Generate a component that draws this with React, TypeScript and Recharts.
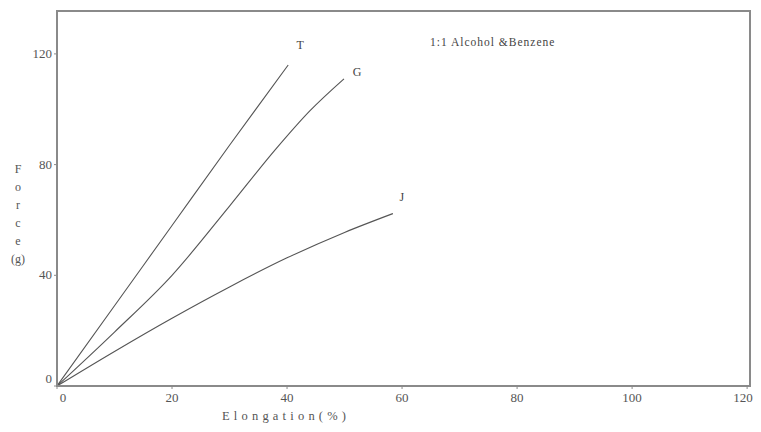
import React from 'react';
import { LineChart, Line, XAxis, YAxis, ReferenceArea } from 'recharts';

// Elongation (%) vs Force (g)
const tElong = [0, 10, 20, 30, 40.2];
const tForce = [0, 29, 58, 87, 116];

const gElong = [0, 10, 20, 30, 38, 44, 49.9];
const gForce = [0, 19.5, 40, 65, 85.5, 99.5, 111];

const jElong = [0, 10, 20, 30, 40, 50, 58.4];
const jForce = [0, 12.5, 24.5, 35.8, 46.3, 55.5, 62.3];

const seriesNames = ['T', 'G', 'J'];
const xTicks = [0, 20, 40, 60, 80, 100, 120];
const yTicks = [0, 40, 80, 120];
const xDomain: [number, number] = [0, 120.5];
const yDomain: [number, number] = [0, 135.5];

const chartTitle = '1:1 Alcohol &Benzene';
const xTitle = 'Elongation(%)';
const yTitleParts = ['F', 'o', 'r', 'c', 'e', '(g)'];

const zip = (xs: number[], ys: number[]) => xs.map((x, i) => ({ x, y: ys[i] }));
const tData = zip(tElong, tForce);
const gData = zip(gElong, gForce);
const jData = zip(jElong, jForce);

const FONT = '"Liberation Serif", "DejaVu Serif", serif';
const TEXT = '#555';
const AXIS = '#8a8a8a';
const LINE = '#555';

const XTick = (props: any) => {
  const { x, y, payload } = props;
  const shift = payload.value === 0 ? 6 : payload.value === 120 ? -4 : 0;
  return (
    <text x={x + shift} y={y} dy={9} textAnchor="middle" fontFamily={FONT} fontSize={13} fill={TEXT}>
      {payload.value}
    </text>
  );
};

const YTick = (props: any) => {
  const { x, y, payload } = props;
  const shift = payload.value === 0 ? -7 : 0;
  return (
    <text x={x} y={y + shift} dy={4} textAnchor="end" fontFamily={FONT} fontSize={13} fill={TEXT}>
      {payload.value}
    </text>
  );
};

const endLabel = (name: string, count: number, dx: number, dy: number) => (props: any) => {
  const { x, y, index } = props;
  if (index !== count - 1) return null;
  return (
    <text x={x + dx} y={y + dy} dy={4} textAnchor="middle" fontFamily={FONT} fontSize={12} fill="#444">
      {name}
    </text>
  );
};

export default function App() {
  return (
    <div style={{ position: 'absolute', left: 0, top: 0, width: 761, height: 432, background: '#fff' }}>
      <LineChart width={761} height={432} margin={{ top: 11, right: 11, bottom: 0, left: 0 }}>
        <XAxis
          type="number"
          dataKey="x"
          domain={xDomain}
          ticks={xTicks}
          allowDataOverflow
          height={46}
          tickSize={3}
          tickMargin={4}
          tick={<XTick />}
          axisLine={{ stroke: AXIS, strokeWidth: 2 }}
          tickLine={{ stroke: AXIS }}
        />
        <YAxis
          type="number"
          domain={yDomain}
          ticks={yTicks}
          allowDataOverflow
          width={57}
          tickSize={3}
          tickMargin={2}
          tick={<YTick />}
          axisLine={{ stroke: AXIS, strokeWidth: 2 }}
          tickLine={{ stroke: AXIS }}
        />
        <ReferenceArea
          x1={xDomain[0]}
          x2={xDomain[1]}
          y1={yDomain[0]}
          y2={yDomain[1]}
          fill="none"
          fillOpacity={0}
          stroke={AXIS}
          strokeWidth={2}
          ifOverflow="visible"
        />
        <Line
          data={tData}
          dataKey="y"
          name={seriesNames[0]}
          type="monotone"
          dot={false}
          stroke={LINE}
          strokeWidth={1.1}
          isAnimationActive={false}
          label={endLabel(seriesNames[0], tData.length, 12, -20)}
        />
        <Line
          data={gData}
          dataKey="y"
          name={seriesNames[1]}
          type="monotone"
          dot={false}
          stroke={LINE}
          strokeWidth={1.1}
          isAnimationActive={false}
          label={endLabel(seriesNames[1], gData.length, 13, -7)}
        />
        <Line
          data={jData}
          dataKey="y"
          name={seriesNames[2]}
          type="monotone"
          dot={false}
          stroke={LINE}
          strokeWidth={1.1}
          isAnimationActive={false}
          label={endLabel(seriesNames[2], jData.length, 9, -17)}
        />
      </LineChart>
      <div
        style={{
          position: 'absolute',
          left: 430,
          top: 36,
          fontFamily: FONT,
          fontSize: 11.5,
          letterSpacing: 1,
          color: '#444',
          whiteSpace: 'nowrap',
        }}
      >
        {chartTitle}
      </div>
      <div
        style={{
          position: 'absolute',
          left: 222,
          top: 409,
          fontFamily: FONT,
          fontSize: 12.5,
          letterSpacing: 4.2,
          color: TEXT,
          whiteSpace: 'nowrap',
        }}
      >
        {xTitle}
      </div>
      <div
        style={{
          position: 'absolute',
          left: 10,
          top: 160,
          width: 16,
          fontFamily: FONT,
          fontSize: 12,
          lineHeight: '18px',
          color: TEXT,
          textAlign: 'center',
        }}
      >
        {yTitleParts.map((p, i) => (
          <div key={i}>{p}</div>
        ))}
      </div>
    </div>
  );
}
